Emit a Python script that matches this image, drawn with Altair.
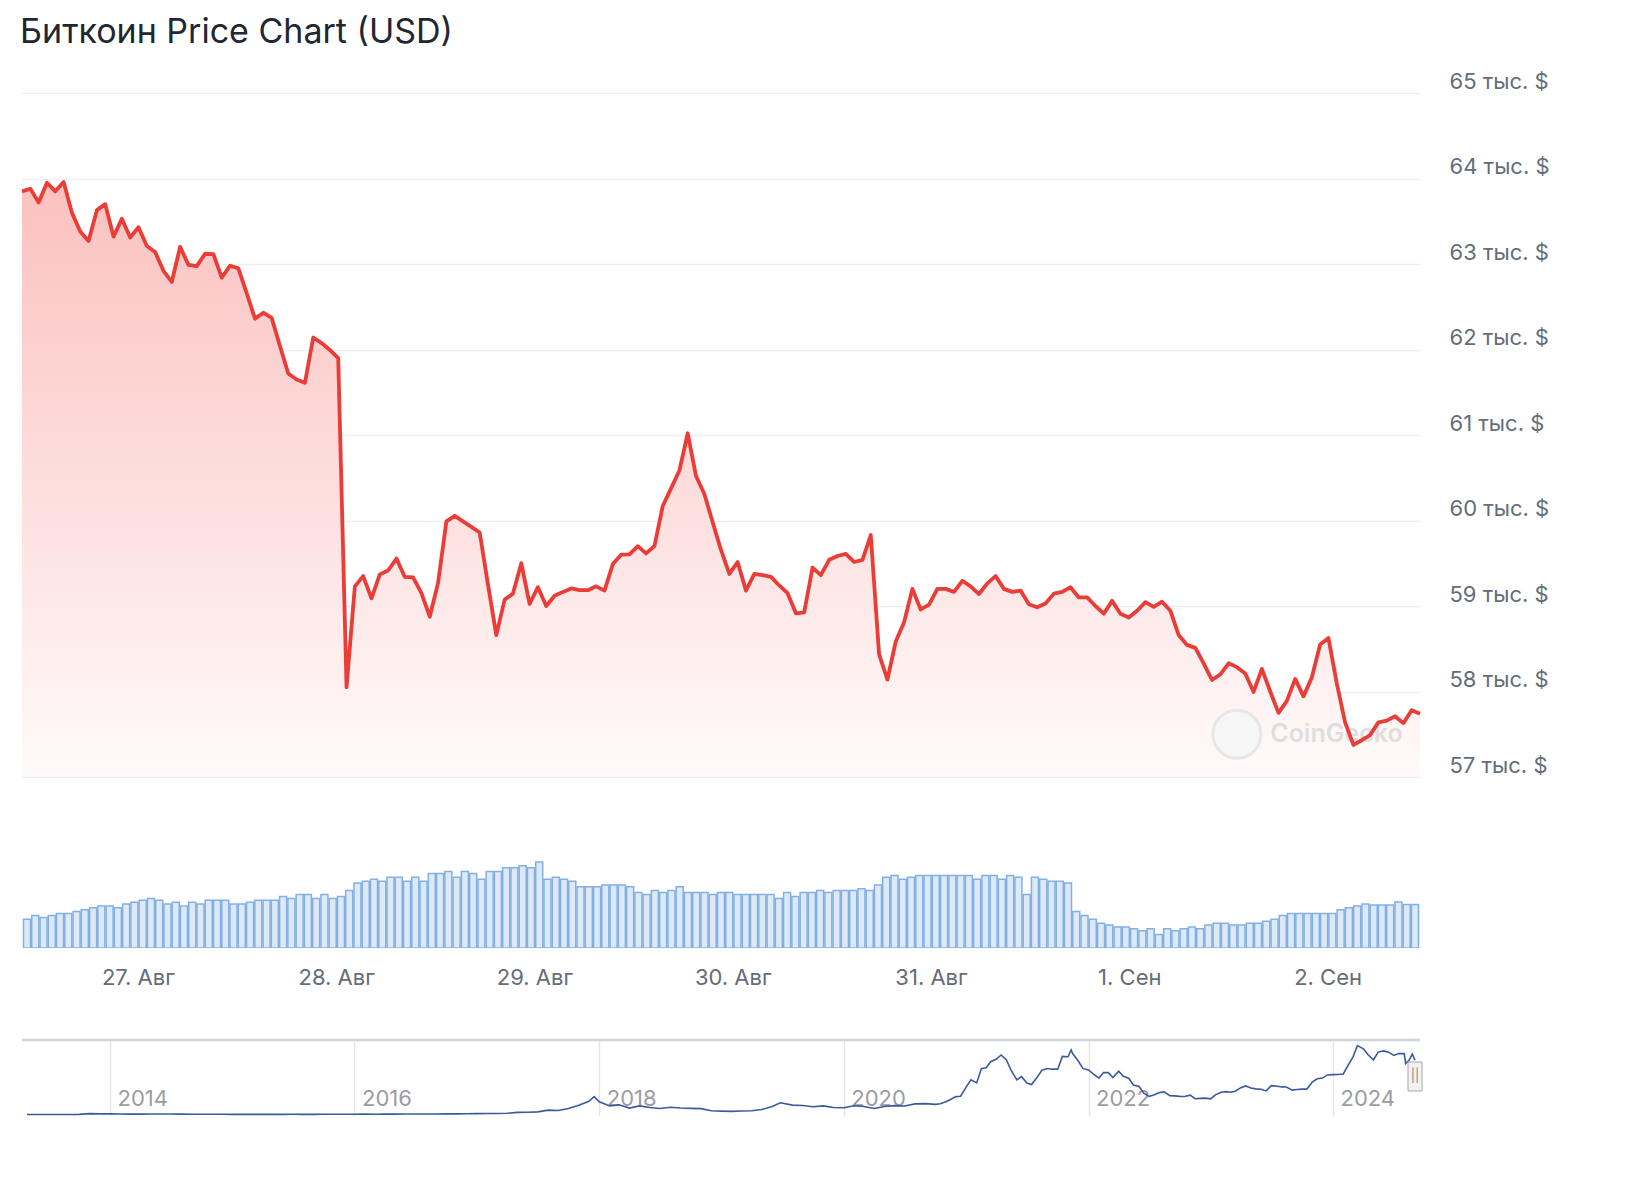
import altair as alt
import pandas as pd

TITLE = "Биткоин Price Chart (USD)"

# hourly BTC price (USD), 26 Aug -> 2 Sep
prices = [
    63850, 63880, 63720, 63950, 63850, 63960, 63600, 63380, 63270, 63630,
    63700, 63320, 63530, 63310, 63430, 63210, 63140, 62920, 62790, 63200,
    62990, 62975, 63120, 63115, 62840, 62980, 62950, 62660, 62360, 62430,
    62370, 62040, 61720, 61650, 61610, 62140, 62075, 61995, 61900, 58050,
    59230, 59350, 59090, 59370, 59415, 59555, 59340, 59335, 59150, 58875,
    59270, 59990, 60055, 59990, 59925, 59860, 59250, 58660, 59075, 59145,
    59500, 59025, 59220, 59000, 59120, 59165, 59205, 59185, 59185, 59230,
    59180, 59490, 59600, 59605, 59700, 59615, 59700, 60170, 60375, 60585,
    61020, 60520, 60310, 59980, 59655, 59375, 59515, 59180, 59375, 59360,
    59340, 59240, 59150, 58915, 58925, 59450, 59360, 59540, 59585, 59610,
    59515, 59540, 59830, 58435, 58140, 58585, 58810, 59200, 58960, 59015,
    59200, 59200, 59165, 59295, 59230, 59140, 59265, 59350, 59200, 59165,
    59180, 59020, 58985, 59030, 59145, 59165, 59220, 59100, 59100, 59000,
    58910, 59060, 58910, 58865, 58945, 59045, 58990, 59050, 58945, 58660,
    58545, 58510, 58330, 58135, 58200, 58330, 58285, 58210, 57995, 58265,
    58000, 57750, 57890, 58147, 57943, 58165, 58550, 58625, 58095, 57640,
    57375, 57430, 57490, 57640, 57660, 57710, 57630, 57780, 57740,
]

# 24h volume (billion USD), one per hour
volumes = [
    14.4, 16.3, 15.3, 16.3, 17.2, 17.2, 18.2, 19.1, 20.1, 21.0,
    21.0, 20.1, 22.0, 22.9, 23.9, 24.8, 23.9, 22.0, 22.9, 21.0,
    22.9, 22.0, 23.9, 23.9, 23.9, 22.0, 22.0, 22.9, 23.9, 23.9,
    23.9, 25.8, 24.8, 26.8, 26.8, 24.8, 26.8, 24.8, 25.8, 28.7,
    32.5, 33.4, 34.4, 33.4, 35.4, 35.4, 33.4, 35.4, 33.4, 37.3,
    37.3, 38.2, 35.4, 38.2, 37.3, 34.4, 38.2, 38.2, 40.1, 40.1,
    41.1, 40.1, 43.0, 34.4, 35.4, 34.4, 33.4, 30.6, 30.6, 30.6,
    31.5, 31.5, 31.5, 30.6, 27.7, 26.8, 28.7, 27.7, 28.7, 30.6,
    27.7, 27.7, 27.7, 26.8, 27.7, 27.7, 26.8, 26.8, 26.8, 26.8,
    26.8, 24.8, 27.7, 25.8, 27.7, 27.7, 28.7, 27.7, 28.7, 28.7,
    28.7, 29.6, 28.7, 31.5, 35.4, 36.3, 34.4, 35.4, 36.3, 36.3,
    36.3, 36.3, 36.3, 36.3, 36.3, 34.4, 36.3, 36.3, 34.4, 36.3,
    35.4, 26.8, 35.4, 34.4, 33.4, 33.4, 32.5, 18.2, 16.3, 14.4,
    12.4, 11.5, 10.5, 10.5, 9.6, 8.6, 9.6, 6.7, 9.6, 8.6,
    9.6, 10.5, 9.6, 11.5, 12.4, 12.4, 11.5, 11.5, 12.4, 12.4,
    13.4, 14.4, 16.3, 17.2, 17.2, 17.2, 17.2, 17.2, 17.2, 19.1,
    20.1, 21.0, 22.0, 21.5, 21.5, 21.5, 23.0, 21.7, 21.7,
]

price_ticks = [57000, 58000, 59000, 60000, 61000, 62000, 63000, 64000, 65000]
day_ticks = ["2024-08-27", "2024-08-28", "2024-08-29", "2024-08-30",
             "2024-08-31", "2024-09-01", "2024-09-02"]

# navigator: full price history
nav_dates = [
    "2013-04-28", "2013-06-01", "2013-07-01", "2013-08-01", "2013-09-01", "2013-10-01", "2013-11-01", "2013-12-01",
    "2014-01-01", "2014-02-01", "2014-03-01", "2014-04-01", "2014-05-01", "2014-06-01", "2014-07-01", "2014-08-01",
    "2014-09-01", "2014-10-01", "2014-11-01", "2014-12-01",
    "2015-01-01", "2015-02-01", "2015-03-01", "2015-04-01", "2015-05-01", "2015-06-01", "2015-07-01", "2015-08-01",
    "2015-09-01", "2015-10-01", "2015-11-01", "2015-12-01",
    "2016-01-01", "2016-02-01", "2016-03-01", "2016-04-01", "2016-05-01", "2016-06-01", "2016-07-01", "2016-08-01",
    "2016-09-01", "2016-10-01", "2016-11-01", "2016-12-01",
    "2017-01-01", "2017-02-01", "2017-03-01", "2017-04-01", "2017-05-01", "2017-06-01", "2017-07-01", "2017-08-01",
    "2017-09-01", "2017-10-01", "2017-11-01", "2017-12-01", "2017-12-17",
    "2018-01-01", "2018-02-01", "2018-03-01", "2018-04-01", "2018-05-01", "2018-06-01", "2018-07-01", "2018-08-01",
    "2018-09-01", "2018-10-01", "2018-11-01", "2018-12-01",
    "2019-01-01", "2019-02-01", "2019-03-01", "2019-04-01", "2019-05-01", "2019-06-01", "2019-06-26", "2019-08-01",
    "2019-09-01", "2019-10-01", "2019-11-01", "2019-12-01",
    "2020-01-01", "2020-02-01", "2020-03-01", "2020-04-01", "2020-05-01", "2020-06-01", "2020-07-01", "2020-08-01",
    "2020-09-01", "2020-10-01", "2020-10-15", "2020-11-01", "2020-11-15", "2020-12-01", "2020-12-15",
    "2021-01-01", "2021-01-15", "2021-02-01", "2021-02-15", "2021-03-01", "2021-03-15", "2021-04-01", "2021-04-15",
    "2021-05-01", "2021-05-15", "2021-06-01", "2021-06-15", "2021-07-01", "2021-07-15", "2021-08-01", "2021-08-15",
    "2021-09-01", "2021-09-15", "2021-10-01", "2021-10-15", "2021-11-01", "2021-11-10", "2021-11-15", "2021-12-01",
    "2021-12-15",
    "2022-01-01", "2022-01-15", "2022-02-01", "2022-02-15", "2022-03-01", "2022-03-15", "2022-04-01", "2022-04-15",
    "2022-05-01", "2022-05-15", "2022-06-01", "2022-06-15", "2022-07-01", "2022-07-15", "2022-08-01", "2022-08-15",
    "2022-09-01", "2022-09-15", "2022-10-01", "2022-10-15", "2022-11-01", "2022-11-15", "2022-12-01", "2022-12-15",
    "2023-01-01", "2023-01-15", "2023-02-01", "2023-02-15", "2023-03-01", "2023-03-15", "2023-04-01", "2023-04-15",
    "2023-05-01", "2023-05-15", "2023-06-01", "2023-06-15", "2023-07-01", "2023-07-15", "2023-08-01", "2023-08-15",
    "2023-09-01", "2023-09-15", "2023-10-01", "2023-10-15", "2023-11-01", "2023-11-15", "2023-12-01", "2023-12-15",
    "2024-01-01", "2024-01-15", "2024-02-01", "2024-02-15", "2024-03-01", "2024-03-14", "2024-04-01", "2024-04-15",
    "2024-05-01", "2024-05-15", "2024-06-01", "2024-06-15", "2024-07-01", "2024-07-15", "2024-08-01", "2024-08-05",
    "2024-08-15", "2024-08-25", "2024-09-02",
]
nav_prices = [
    135, 100, 95, 130, 135, 200, 1000, 750,
    850, 600, 460, 450, 630, 640, 590, 480,
    390, 340, 380, 320,
    220, 255, 245, 235, 230, 265, 285, 230,
    237, 315, 380, 430,
    370, 435, 415, 450, 530, 670, 625, 575,
    610, 700, 740, 960,
    970, 1190, 1080, 1350, 2300, 2480, 2870, 4700,
    4340, 6450, 10000, 14000, 19000,
    13500, 9200, 10300, 6900, 9200, 7500, 6400, 7700,
    7000, 6600, 6300, 4000,
    3700, 3450, 3800, 4100, 5300, 8500, 12500, 10000,
    9600, 8300, 9200, 7550,
    7200, 9350, 8600, 6400, 8600, 9450, 9150, 11300,
    11650, 10800, 11400, 13700, 16000, 19000, 19400,
    29400, 36800, 33500, 48600, 49600, 56000, 58800, 63100,
    57800, 46700, 36700, 40200, 33500, 31800, 39900, 47000,
    48800, 48100, 48100, 61600, 61300, 68500, 64400, 57000,
    48900,
    47300, 43100, 38700, 44500, 44400, 39300, 46000, 40500,
    38500, 31300, 29800, 22600, 19300, 20800, 23300, 24100,
    20100, 19800, 19300, 19100, 20500, 16800, 17200, 17400,
    16600, 20900, 23700, 24300, 23600, 24800, 28500, 30300,
    28100, 27200, 26800, 25100, 30600, 30300, 29300, 29200,
    25900, 26600, 27000, 27000, 34700, 37900, 38700, 42000,
    42300, 42500, 43000, 52100, 61200, 73100, 69700, 63400,
    57800, 66200, 67500, 66100, 62700, 64700, 64600, 54000,
    57500, 64100, 57500,
]
year_ticks = ["2014-01-01", "2016-01-01", "2018-01-01", "2020-01-01", "2022-01-01", "2024-01-01"]


def ms(s):
    return int(pd.Timestamp(s, tz="UTC").value // 10**6)


times = pd.date_range("2024-08-26 10:35", periods=len(prices), freq="h", tz="UTC")
t_ms = [int(t.value // 10**6) for t in times]

price_df = pd.DataFrame({"time": t_ms, "price": prices})
vol_df = pd.DataFrame({"time": t_ms, "volume": volumes})
nav_df = pd.DataFrame({"date": [ms(d) for d in nav_dates], "price": nav_prices})

W = 1398
FONT = "Inter"
RED = "#ea3d37"
x_dom = [t_ms[0], t_ms[-1]]
p_scale = alt.Scale(domain=[57000, 65000], nice=False, zero=False)
t_scale = alt.Scale(type="utc", domain=x_dom)

x_price = alt.X("time:T", scale=t_scale, axis=None)
y_price = alt.Y(
    "price:Q",
    scale=p_scale,
    axis=alt.Axis(
        orient="right", values=price_ticks, title=None,
        labelExpr="format(datum.value / 1000, 'd') + ' тыс. $'",
        grid=True, gridColor="#eceef1", gridWidth=1.5,
        domain=False, ticks=False, labelPadding=29,
        labelFontSize=22, labelColor="#646d79", labelFont=FONT,
        labelBaseline="bottom", labelOverlap=False, labelFlush=False,
    ),
)

grad = alt.Gradient(
    gradient="linear",
    stops=[
        alt.GradientStop(color="#fbc1bf", offset=0),
        alt.GradientStop(color="#fde0df", offset=0.55),
        alt.GradientStop(color="#fffafa", offset=1),
    ],
    x1=1, x2=1, y1=0, y2=1,
)

base = alt.Chart(price_df)
area = base.mark_area(color=grad).encode(x=x_price, y=y_price, y2=alt.datum(57000))
line = base.mark_line(color=RED, strokeWidth=3.8, strokeJoin="round").encode(x=x_price, y=y_price)

wm_df = pd.DataFrame({
    "time": [ms("2024-09-01T16:35:00")],
    "logo_time": [ms("2024-09-01T12:35:00")],
    "price": [57500],
    "label": ["CoinGecko"],
})
wm_logo = alt.Chart(wm_df).mark_point(
    shape="circle", size=2300, filled=True, fill="#f7f7f7", stroke="#e6e6e6", strokeWidth=3, opacity=0.9
).encode(x=alt.X("logo_time:T", scale=t_scale, axis=None),
         y=alt.Y("price:Q", scale=p_scale))
wm_text = alt.Chart(wm_df).mark_text(
    align="left", baseline="middle", font=FONT, fontSize=25, fontWeight=600, color="#dedede"
).encode(x=alt.X("time:T", scale=t_scale, axis=None),
         y=alt.Y("price:Q", scale=p_scale),
         text="label:N")

price_chart = alt.layer(area, wm_logo, wm_text, line).properties(width=W, height=684)

vol_chart = alt.Chart(vol_df).mark_bar(
    size=7, fill="#dde9f7", stroke="#82b0e2", strokeWidth=1.5, clip=True
).encode(
    x=alt.X(
        "time:T", scale=t_scale,
        axis=alt.Axis(
            values=[ms(d) for d in day_ticks], title=None,
            labelExpr="utcdate(datum.value) + '. ' + (utcmonth(datum.value) == 7 ? 'Авг' : 'Сен')",
            grid=False, domain=False, ticks=False, labelPadding=19,
            labelFontSize=22, labelColor="#646d79", labelFont=FONT,
            labelOverlap=False, labelFlush=False,
        ),
    ),
    y=alt.Y("volume:Q", scale=alt.Scale(domain=[0, 50]), axis=None),
).properties(width=W, height=100)

nav_x_dom = [nav_df["date"].iloc[0], nav_df["date"].iloc[-1]]
nav_t_scale = alt.Scale(type="utc", domain=nav_x_dom)
nav_p_scale = alt.Scale(domain=[-1500, 79000], nice=False, zero=False)
nav_x = alt.X(
    "date:T", scale=nav_t_scale,
    axis=alt.Axis(
        values=[ms(d) for d in year_ticks], title=None,
        labelExpr="utcyear(datum.value)",
        grid=True, gridColor="#e3e6ea", gridWidth=1.5,
        domain=False, ticks=False, labelPadding=-28, labelAlign="left", labelOffset=7,
        labelFontSize=22, labelColor="#9a9da3", labelFont=FONT,
        labelOverlap=False, labelFlush=False,
    ),
)
nav_y = alt.Y("price:Q", scale=nav_p_scale, axis=None)
nav_line = alt.Chart(nav_df).mark_line(color="#3a5a9c", strokeWidth=1.6).encode(x=nav_x, y=nav_y)
nav_top = alt.Chart(pd.DataFrame({"a": [0]})).mark_rule(color="#ccd4de", strokeWidth=2.5).encode(y=alt.value(0))

handle_df = pd.DataFrame({"date": [nav_df["date"].iloc[-1]], "lo": [25000], "hi": [55700], "mid": [40350], "mark": ["||"]})
handle = alt.Chart(handle_df).mark_bar(size=14, fill="#f2f2f2", stroke="#a6a6a6", strokeWidth=1).encode(
    x=alt.X("date:T", scale=nav_t_scale),
    y=alt.Y("lo:Q", scale=nav_p_scale, axis=None),
    y2="hi:Q",
)
handle_txt = alt.Chart(handle_df).mark_text(fontSize=13, color="#888888", font=FONT).encode(
    x=alt.X("date:T", scale=nav_t_scale),
    y=alt.Y("mid:Q", scale=nav_p_scale, axis=None),
    text="mark:N",
)
nav_chart = alt.layer(nav_line, nav_top, handle, handle_txt).properties(width=W, height=76)

top = alt.vconcat(price_chart, vol_chart, spacing=71)
chart = alt.vconcat(top, nav_chart, spacing=50).properties(
    title=alt.TitleParams(
        TITLE, anchor="start", font=FONT, fontSize=34, fontWeight="normal",
        color="#1f2733", offset=20,
    ),
    padding={"left": 12, "top": 8, "right": 10, "bottom": 10},
).configure(background="white").configure_view(stroke="transparent", strokeWidth=0)

chart.save("out.html", embed_options={"renderer": "svg", "actions": False})
